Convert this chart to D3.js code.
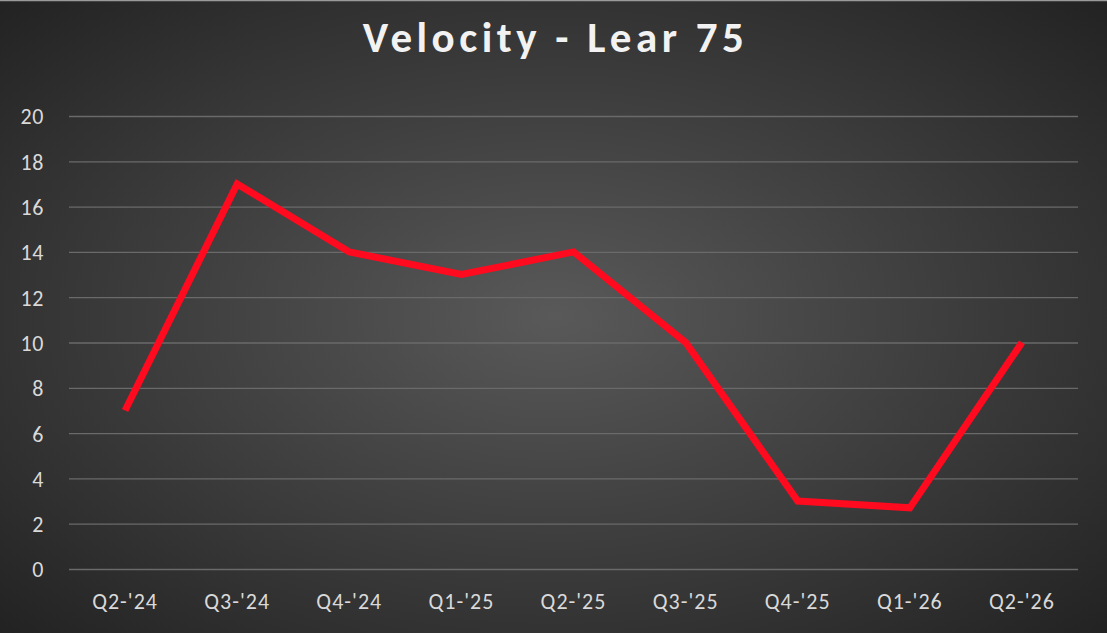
<!DOCTYPE html>
<html>
<head>
<meta charset="utf-8">
<script src="https://cdn.jsdelivr.net/npm/d3@7"></script>
<style>
  html, body { margin: 0; padding: 0; background: #333; }
  svg { display: block; }
  svg text { font-family: Calibri, Carlito, Lato, sans-serif; }
</style>
</head>
<body>
<svg id="chart" width="1107" height="633"></svg>
<script>
// data
const quarters = ["Q2-'24", "Q3-'24", "Q4-'24", "Q1-'25", "Q2-'25", "Q3-'25", "Q4-'25", "Q1-'26", "Q2-'26"];
const velocity = [7, 17, 14, 13, 14, 10, 3, 2.7, 10];
const yTicks = [0, 2, 4, 6, 8, 10, 12, 14, 16, 18, 20];
const title = 'Velocity - Lear 75';

const W = 1107, H = 633;
const margin = { top: 116, right: 29, left: 69 };
const svg = d3.select('#chart');

// background gradient like excel's dark style
const defs = svg.append('defs');
const grad = defs.append('radialGradient').attr('id', 'bg')
  .attr('cx', '50%').attr('cy', '50%').attr('r', '75%');
grad.append('stop').attr('offset', '0%').attr('stop-color', '#595959');
grad.append('stop').attr('offset', '100%').attr('stop-color', '#1f1f1f');
svg.append('rect').attr('width', W).attr('height', H).attr('fill', 'url(#bg)');
svg.append('line').attr('x1', 0).attr('x2', W).attr('y1', 0.5).attr('y2', 0.5)
  .attr('stroke', '#9a9a9a').attr('stroke-width', 1.5);

const width = W - margin.left - margin.right;
const g = svg.append('g').attr('transform', `translate(${margin.left},${margin.top})`);

const x = d3.scaleBand().domain(quarters).range([0, width]);
const y = d3.scaleLinear().domain([0, 20]).range([453, 0]);

// gridlines + y labels
const yAxis = g.append('g')
  .call(d3.axisLeft(y).tickValues(yTicks).tickSize(-width).tickPadding(25));
yAxis.attr('font-family', null);
yAxis.select('.domain').remove();
yAxis.selectAll('line').attr('stroke', '#6a6a6a').attr('stroke-width', 1.3);
yAxis.selectAll('text').attr('fill', '#d9d9d9').style('font-size', '22px')
  .style('letter-spacing', '0.6px').attr('dy', '0.36em');

// x labels
const xAxis = g.append('g').attr('transform', `translate(0,${y(0)})`)
  .call(d3.axisBottom(x).tickSize(0).tickPadding(24));
xAxis.attr('font-family', null);
xAxis.select('.domain').remove();
xAxis.selectAll('text').attr('fill', '#d9d9d9').style('font-size', '22px')
  .style('letter-spacing', '1px');

// line
const line = d3.line()
  .x((d, i) => x(quarters[i]) + x.bandwidth() / 2)
  .y(d => y(d));
g.append('path').datum(velocity)
  .attr('fill', 'none')
  .attr('stroke', '#ff0a1e')
  .attr('stroke-width', 7)
  .attr('stroke-linejoin', 'miter')
  .attr('d', line);

// title
svg.append('text')
  .attr('x', W / 2 + 2).attr('y', 52)
  .attr('text-anchor', 'middle')
  .attr('fill', '#f2f2f2')
  .style('font-size', '43px')
  .style('font-weight', 'bold')
  .style('letter-spacing', '4.5px')
  .text(title);
</script>
</body>
</html>
